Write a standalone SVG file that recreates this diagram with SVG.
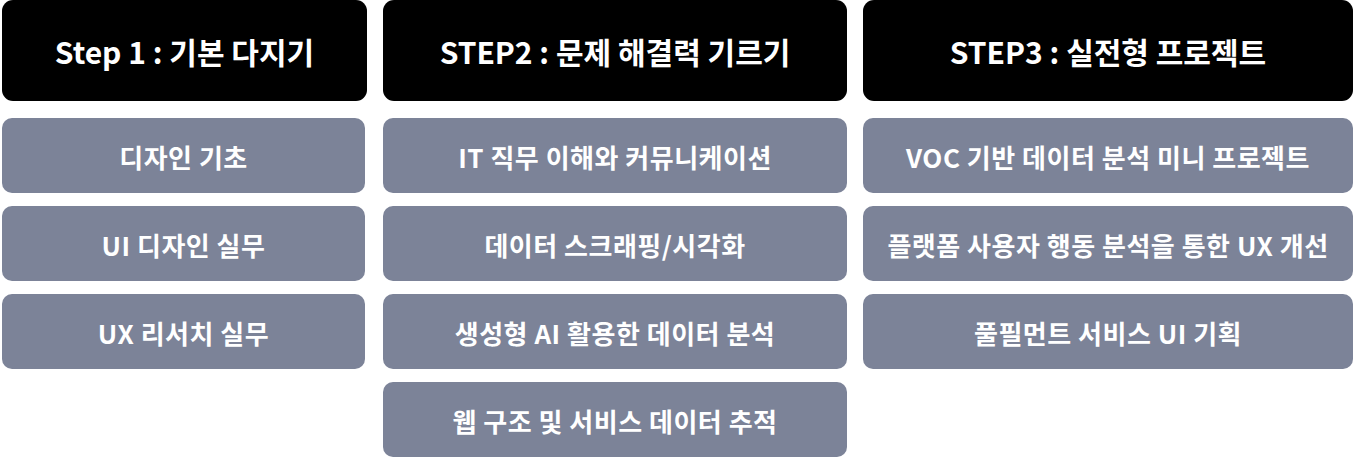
<svg xmlns="http://www.w3.org/2000/svg" width="1355" height="459" viewBox="0 0 1355 459">
<style>
.h{fill:#000}
.b{fill:#7C8398}
.ht{font-family:"Noto Sans CJK KR","Noto Sans",sans-serif;font-weight:700;font-size:30px;fill:#fff;text-anchor:middle;dominant-baseline:central}
.bt{font-family:"Noto Sans CJK KR","Noto Sans",sans-serif;font-weight:700;font-size:26px;letter-spacing:0.5px;fill:#fff;text-anchor:middle;dominant-baseline:central}
</style>
<rect width="1355" height="459" fill="#fff"/>
<g id="col1">
<g id="h1"><rect class="h" x="2" y="0" width="365" height="101" rx="11"/><text class="ht" x="184.5" y="51">Step 1 : 기본 다지기</text></g>
<g id="c1a"><rect class="b" x="2" y="118" width="363" height="75" rx="10"/><text class="bt" x="183.5" y="156">디자인 기초</text></g>
<g id="c1b"><rect class="b" x="2" y="206" width="363" height="75" rx="10"/><text class="bt" x="183.5" y="244">UI 디자인 실무</text></g>
<g id="c1c"><rect class="b" x="2" y="294" width="363" height="75" rx="10"/><text class="bt" x="183.5" y="332">UX 리서치 실무</text></g>
</g>
<g id="col2">
<g id="h2"><rect class="h" x="383" y="0" width="464" height="101" rx="11"/><text class="ht" x="615" y="51">STEP2 : 문제 해결력 기르기</text></g>
<g id="c2a"><rect class="b" x="383" y="118" width="464" height="75" rx="10"/><text class="bt" x="615" y="156">IT 직무 이해와 커뮤니케이션</text></g>
<g id="c2b"><rect class="b" x="383" y="206" width="464" height="75" rx="10"/><text class="bt" x="615" y="244">데이터 스크래핑/시각화</text></g>
<g id="c2c"><rect class="b" x="383" y="294" width="464" height="75" rx="10"/><text class="bt" x="615" y="332">생성형 AI 활용한 데이터 분석</text></g>
<g id="c2d"><rect class="b" x="383" y="382" width="464" height="75" rx="10"/><text class="bt" x="615" y="420">웹 구조 및 서비스 데이터 추적</text></g>
</g>
<g id="col3">
<g id="h3"><rect class="h" x="863" y="0" width="490" height="101" rx="11"/><text class="ht" x="1108" y="51">STEP3 : 실전형 프로젝트</text></g>
<g id="c3a"><rect class="b" x="863" y="118" width="490" height="75" rx="10"/><text class="bt" x="1108" y="156">VOC 기반 데이터 분석 미니 프로젝트</text></g>
<g id="c3b"><rect class="b" x="863" y="206" width="490" height="75" rx="10"/><text class="bt" x="1108" y="244">플랫폼 사용자 행동 분석을 통한 UX 개선</text></g>
<g id="c3c"><rect class="b" x="863" y="294" width="490" height="75" rx="10"/><text class="bt" x="1108" y="332">풀필먼트 서비스 UI 기획</text></g>
</g>
<g id="connectors"></g>
</svg>
